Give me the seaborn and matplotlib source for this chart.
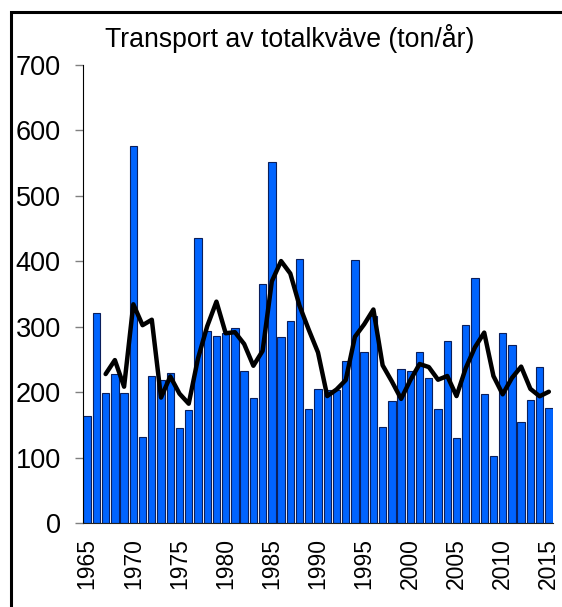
import numpy as np
import pandas as pd
import matplotlib
matplotlib.use("Agg")
import matplotlib.pyplot as plt
import matplotlib.patches as patches
import seaborn as sns

# yearly nitrogen transport (ton/year)
years = list(range(1965, 2016))
transport = [164, 321, 198, 228, 199, 576, 132, 224, 219, 229,
             145, 173, 436, 293, 286, 291, 298, 232, 191, 366,
             551, 284, 309, 403, 174, 205, 203, 204, 248, 402,
             261, 316, 146, 187, 236, 232, 261, 222, 174, 278,
             130, 302, 374, 197, 103, 290, 272, 155, 188, 238,
             176]
tick_years = [1965, 1970, 1975, 1980, 1985, 1990, 1995, 2000, 2005, 2010, 2015]
title = "Transport av totalkväve (ton/år)"

df = pd.DataFrame({"year": years, "transport": transport})
df["pos"] = np.arange(len(df))
# trailing 3-year mean
df["mean3"] = df["transport"].rolling(3).mean()

sns.set_style("white")
plt.rcParams["font.family"] = ["Liberation Sans", "DejaVu Sans"]
plt.rcParams["text.color"] = "black"
plt.rcParams["xtick.color"] = "black"
plt.rcParams["ytick.color"] = "black"

fig = plt.figure(figsize=(5.62, 6.07), dpi=100)
ax = fig.add_axes([83 / 562, 84 / 607, 470 / 562, 458 / 607])

sns.barplot(data=df, x="pos", y="transport", color="#0064ff", saturation=1,
            width=0.8, edgecolor="#0a1f5c", linewidth=0.8, ax=ax)
sns.lineplot(data=df.dropna(), x="pos", y="mean3", color="black", linewidth=3.2,
             ax=ax)

ax.set_xlim(-0.45, len(years) - 0.55)
ax.set_ylim(0, 700)
ax.set_yticks(range(0, 701, 100))
ax.set_xticks([y - years[0] for y in tick_years])
ax.set_xticklabels([str(y) for y in tick_years], rotation=90)
ax.set_xlabel("")
ax.set_ylabel("")

ax.tick_params(axis="y", left=True, length=6, width=1, color="#808080",
               labelcolor="black", pad=10, labelsize=19.5)
ax.tick_params(axis="x", bottom=False, length=0, pad=11, labelsize=16.5,
               labelcolor="black")
for side in ["top", "right"]:
    ax.spines[side].set_visible(False)
ax.spines["left"].set_color("black")
ax.spines["bottom"].set_color("#202020")

fig.text(290 / 562, 1 - 47 / 607, title, ha="center", va="baseline", fontsize=19.2)

# frame round the figure, cut off at right and bottom
fig.patches.append(patches.Rectangle((11 / 562, -0.1), 2, 1.1 - 12 / 607,
                                     transform=fig.transFigure, fill=False,
                                     linewidth=2.2, edgecolor="black"))

fig.savefig("out.png", dpi=100)
